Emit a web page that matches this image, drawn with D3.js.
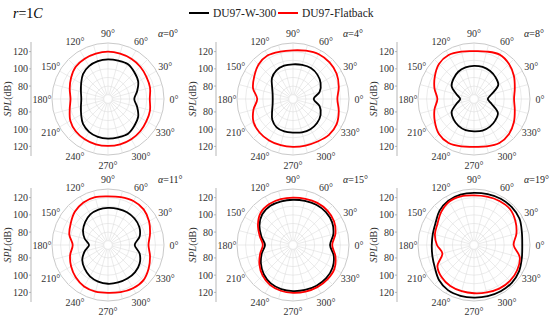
<!DOCTYPE html>
<html>
<head>
<meta charset="utf-8">
<script src="https://d3js.org/d3.v7.min.js"></script>
<style>
body { margin: 0; background: #fff; }
</style>
</head>
<body>
<script>
// polar angles (deg), SPL readings (dB) per angle for each panel
var angles = d3.range(0, 360, 15);
var alphas = [0, 4, 8, 11, 15, 19];
var rTicks = [80, 100, 120];
var angleTicks = d3.range(0, 360, 30);
var seriesNames = ["DU97-W-300", "DU97-Flatback"];

var w300_0  = [95.5,100,105.5,108.5,111.5,111,111,110.5,109,106,101,97.5,96,97.5,101,106,109,110.5,111,111,111.5,108.5,105.5,100];
var flat_0  = [113.5,115.5,116.5,118,119,119.5,120,119.5,119,118,114.5,111,108.5,111,115.5,118,119,119.5,119.5,119.5,119,118,116.5,115.5];
var w300_4  = [89,97,102,105,106.5,106,105.3,105,103.5,99.5,93,89.5,88.5,89.5,93,99,103,104,104,105,105.5,104.5,102,97];
var flat_4  = [116.5,120,123.5,125,125,123,121.5,122,123.5,121.5,117,113,106.5,112.5,118,120,120.5,120.5,120.5,121,122,124,123.5,120];
var w300_8  = [81,86,97.5,100.5,102.5,103.5,103.5,103,101.5,98.5,95,86,81,86,95,98.5,101,102.5,102.5,103,102,100,97,86];
var flat_8  = [111.5,114,118.5,122.5,124.5,122,120.5,122,124,122.5,117.5,112.5,107.5,112.5,117.5,122.5,124,122,120.5,122,124,122.5,118.5,114];
var w300_11 = [96,103,107,108.5,109,108.5,108,107.5,106,102.5,98.5,93,87,93,99.5,103.5,107,109,110,110,110,109.5,107.5,103];
var flat_11 = [112,115.5,120,123.5,124,122.5,121.5,122.5,122,119.5,115,111.5,106,110.5,114.5,118,120.5,121,120.5,121.5,123,123,119.5,115.5];
var w300_15 = [108,113.5,117.5,119,119,118,117.5,117.5,117.5,115.5,110,103,97.5,102.5,108,113,116.5,118,118.5,119,119.5,119.5,118,114];
var flat_15 = [110.5,116,120,121.5,121.5,120.5,120,120,120,118,112,105,100,104.5,110,115,118.5,120,120.5,121,121.5,121.5,120.5,116];
var w300_19 = [121,122.5,126,127,127,126,125.5,125.5,124.5,121.5,116.5,114.5,114,115,117.5,122.5,125.5,126,126,126.5,127,127,125.5,122.5];
var flat_19 = [111,116,120.5,124,124,123,122.5,123.5,123,119,114,112,108,103,114,118,120,120.5,121,122,123.5,124,123,120];

var blackSeries = [w300_0, w300_4, w300_8, w300_11, w300_15, w300_19];
var redSeries   = [flat_0, flat_4, flat_8, flat_11, flat_15, flat_19];

var width = 550, height = 319;
var colX = [108, 293, 474], rowY = [99, 245];
var R = 56;

var svg = d3.select("body").append("svg")
    .attr("width", width)
    .attr("height", height)
    .attr("font-family", "'Liberation Serif', 'DejaVu Serif', 'Times New Roman', serif");

var r = d3.scaleLinear().domain([65, 130]).range([0, R]);
var gridVals = [70, 80, 90, 100, 110, 120];

// title
var title = svg.append("text").attr("x", 13).attr("y", 18).attr("font-size", 14);
title.append("tspan").attr("font-style", "italic").text("r");
title.append("tspan").text("=1");
title.append("tspan").attr("font-style", "italic").text("C");

// legend
var legColors = ["#000", "#ff0000"], legX = [189, 278];
seriesNames.forEach(function(n, i) {
  svg.append("line").attr("x1", legX[i]).attr("x2", legX[i] + 20)
    .attr("y1", 13).attr("y2", 13)
    .attr("stroke", legColors[i]).attr("stroke-width", 2);
  svg.append("text").attr("x", legX[i] + 24).attr("y", 17)
    .attr("font-size", 11.5).attr("fill", "#222").text(n);
});

alphas.forEach(function(a, i) {
  var cx = colX[i % 3], cy = rowY[Math.floor(i / 3)];
  var g = svg.append("g").attr("transform", "translate(" + cx + "," + cy + ")");

  // grid circles
  g.selectAll("circle.grid").data(gridVals).enter().append("circle")
    .attr("r", function(d) { return r(d); })
    .attr("fill", "none").attr("stroke", "#ddd").attr("stroke-width", 0.6);
  g.append("circle").attr("r", R).attr("fill", "none")
    .attr("stroke", "#bbb").attr("stroke-width", 0.8);

  // spokes
  g.selectAll("line.spoke").data(angles).enter().append("line")
    .attr("x1", function(d) { return r(70) * Math.cos(d * Math.PI / 180); })
    .attr("y1", function(d) { return -r(70) * Math.sin(d * Math.PI / 180); })
    .attr("x2", function(d) { return R * Math.cos(d * Math.PI / 180); })
    .attr("y2", function(d) { return -R * Math.sin(d * Math.PI / 180); })
    .attr("stroke", "#ddd").attr("stroke-width", 0.6);

  // angle labels
  g.selectAll("text.ang").data(angleTicks).enter().append("text")
    .attr("x", function(d) { return 66 * Math.cos(d * Math.PI / 180); })
    .attr("y", function(d) { return -66 * Math.sin(d * Math.PI / 180) + 3.5; })
    .attr("text-anchor", "middle").attr("font-size", 10).attr("fill", "#333")
    .text(function(d) { return d + "\u00B0"; });

  // radial axis on the left, mirrored about the centre
  var ax = -77;
  g.append("line").attr("x1", ax).attr("x2", ax)
    .attr("y1", -R - 1).attr("y2", R + 1).attr("stroke", "#999").attr("stroke-width", 0.7);
  [-1, 1].forEach(function(s) {
    var yAxis = d3.scaleLinear().domain(r.domain()).range([0, s * R]);
    var tk = g.selectAll(null).data(rTicks).enter();
    tk.append("line").attr("x1", ax - 2).attr("x2", ax)
      .attr("y1", function(d) { return yAxis(d); })
      .attr("y2", function(d) { return yAxis(d); })
      .attr("stroke", "#999").attr("stroke-width", 0.7);
    tk.append("text").attr("x", ax - 3).attr("y", function(d) { return yAxis(d) + 3.5; })
      .attr("text-anchor", "end").attr("font-size", 10).attr("fill", "#333")
      .text(function(d) { return d; });
  });
  var yl = g.append("text").attr("transform", "translate(" + (ax - 20) + ",0) rotate(-90)")
    .attr("text-anchor", "middle").attr("font-size", 10).attr("fill", "#333");
  yl.append("tspan").attr("font-style", "italic").text("SPL");
  yl.append("tspan").text("(dB)");

  // alpha label
  var al = g.append("text").attr("x", 50).attr("y", -62).attr("font-size", 10).attr("fill", "#222");
  al.append("tspan").attr("font-style", "italic").text("\u03B1");
  al.append("tspan").text("=" + a + "\u00B0");

  var line = d3.lineRadial()
    .angle(function(d, j) { return Math.PI / 2 - angles[j] * Math.PI / 180; })
    .radius(function(d) { return r(d); })
    .curve(d3.curveCatmullRomClosed.alpha(0.5));

  g.append("path").attr("d", line(blackSeries[i]))
    .attr("fill", "none").attr("stroke", "#000").attr("stroke-width", 1.8);
  g.append("path").attr("d", line(redSeries[i]))
    .attr("fill", "none").attr("stroke", "#ff0000").attr("stroke-width", 1.8);
});
</script>
</body>
</html>
